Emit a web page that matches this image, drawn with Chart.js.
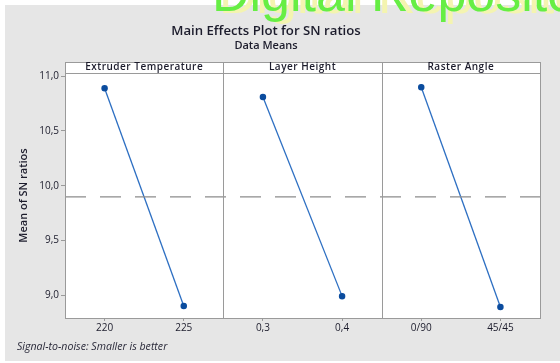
<!DOCTYPE html>
<html>
<head>
<meta charset="utf-8">
<script src="https://cdn.jsdelivr.net/npm/chart.js@4"></script>
<style>
  html, body { margin: 0; padding: 0; background: #fff; }
  body { width: 560px; height: 363px; position: relative; overflow: hidden; font-family: "Open Sans", "Noto Sans", sans-serif; }
  #frame { position: absolute; left: 5px; top: 5px; width: 555px; height: 356px; background: #e6e6e6; }
  #wrap { position: absolute; left: 0; top: 0; width: 560px; height: 363px; }
  .txt { position: absolute; white-space: nowrap; color: #1c1c2c; }
  #title { left: 0; width: 532px; top: 21px; text-align: center; font-size: 13.2px; font-weight: 600; }
  #sub { left: 0; width: 532px; top: 37px; text-align: center; font-size: 11px; font-weight: 600; }
  #note { left: 17px; top: 339px; font-size: 10.6px; font-style: italic; color: #2a2a3a; }
  #mark { left: 212px; top: -33px; line-height: 52px; font-family: "Liberation Sans", Arial, sans-serif; font-size: 52px; color: #66ee44; text-shadow: 7px 2px 0 #f4f4b0; }
</style>
</head>
<body>
<div id="frame"></div>
<div id="wrap"><canvas id="mainEffects" width="560" height="363"></canvas></div>
<div class="txt" id="title">Main Effects Plot for SN ratios</div>
<div class="txt" id="sub">Data Means</div>
<div class="txt" id="note">Signal-to-noise: Smaller is better</div>
<div class="txt" id="mark">Digital Repository</div>
<script>
const factors = ["Extruder Temperature", "Layer Height", "Raster Angle"];
const levels = ["220", "225", "0,3", "0,4", "0/90", "45/45"];
const extruderMeans = [10.89, 8.90];
const layerMeans = [10.81, 8.99];
const rasterMeans = [10.90, 8.89];
const yTicks = [9.0, 9.5, 10.0, 10.5, 11.0];

const allMeans = extruderMeans.concat(layerMeans, rasterMeans);
const grandMean = allMeans.reduce((a, b) => a + b, 0) / allMeans.length;

function toPoints(values, panel) {
  return values.map((v, i) => ({ x: panel * 2 + i + 0.5, y: v }));
}

function effectSet(values, panel) {
  return {
    data: toPoints(values, panel),
    borderColor: "#2d6fc2",
    backgroundColor: "#0b4c9e",
    pointBorderColor: "#0b4c9e",
    borderWidth: 1.3,
    pointRadius: 2.6,
    pointStyle: "circle",
  };
}

// panel frames, strip headers and dividers
const panelPlugin = {
  id: "panels",
  beforeDatasetsDraw(chart) {
    const { ctx, chartArea: a } = chart;
    const stripTop = a.top - 11;
    ctx.save();
    ctx.fillStyle = "#fff";
    ctx.fillRect(a.left, stripTop, a.right - a.left, a.bottom - stripTop);
    ctx.restore();
  },
  afterDatasetsDraw(chart) {
    const { ctx, chartArea: a, scales } = chart;
    const stripTop = a.top - 11;
    ctx.save();
    ctx.strokeStyle = "#9a9a9a";
    ctx.lineWidth = 1;
    ctx.strokeRect(a.left + 0.5, stripTop + 0.5, a.right - a.left, a.bottom - stripTop);
    ctx.beginPath();
    ctx.moveTo(a.left, a.top + 0.5);
    ctx.lineTo(a.right, a.top + 0.5);
    [2, 4].forEach((v) => {
      const x = Math.round(scales.x.getPixelForValue(v)) + 0.5;
      ctx.moveTo(x, stripTop);
      ctx.lineTo(x, a.bottom);
    });
    ctx.stroke();
    ctx.fillStyle = "#1c1c2c";
    ctx.font = "600 10px 'Open Sans', sans-serif";
    ctx.letterSpacing = "0.5px";
    ctx.textAlign = "center";
    ctx.textBaseline = "middle";
    factors.forEach((f, i) => {
      const x = scales.x.getPixelForValue(i * 2 + 1);
      ctx.fillText(f, x, stripTop + 5);
    });
    ctx.restore();
  },
};

new Chart(document.getElementById("mainEffects"), {
  type: "line",
  data: {
    datasets: [
      {
        data: [{ x: 0, y: grandMean }, { x: 6, y: grandMean }],
        borderColor: "#8c8c8c",
        borderWidth: 1.2,
        borderDash: [21, 14],
        pointRadius: 0,
      },
      effectSet(extruderMeans, 0),
      effectSet(layerMeans, 1),
      effectSet(rasterMeans, 2),
    ],
  },
  plugins: [panelPlugin],
  options: {
    responsive: false,
    animation: false,
    layout: { padding: { left: 0, top: 73, right: 20, bottom: 0 } },
    plugins: {
      legend: { display: false },
      tooltip: { enabled: false },
    },
    scales: {
      x: {
        type: "linear",
        min: 0,
        max: 6,
        afterBuildTicks(scale) {
          scale.ticks = levels.map((l, i) => ({ value: i + 0.5 }));
        },
        afterFit(scale) {
          scale.height = 45;
        },
        ticks: {
          autoSkip: false,
          maxRotation: 0,
          padding: 1,
          color: "#1c1c2c",
          font: { family: "'Open Sans', sans-serif", size: 10 },
          callback: (v) => levels[Math.round(v - 0.5)],
        },
        grid: { drawOnChartArea: false, tickLength: 3, color: "#9a9a9a" },
        border: { display: false },
      },
      y: {
        min: 8.79,
        max: 11.03,
        afterBuildTicks(scale) {
          scale.ticks = yTicks.map((v) => ({ value: v }));
        },
        afterFit(scale) {
          scale.width = 65;
        },
        ticks: {
          padding: 2,
          color: "#1c1c2c",
          font: { family: "'Open Sans', sans-serif", size: 10 },
          callback: (v) => v.toFixed(1).replace(".", ","),
        },
        grid: { drawOnChartArea: false, tickLength: 4, color: "#9a9a9a" },
        border: { display: false },
        title: {
          display: true,
          text: "Mean of SN ratios",
          color: "#1c1c2c",
          font: { family: "'Open Sans', sans-serif", size: 11, weight: "600" },
          padding: { top: 17, bottom: 0 },
        },
      },
    },
  },
});
</script>
</body>
</html>
